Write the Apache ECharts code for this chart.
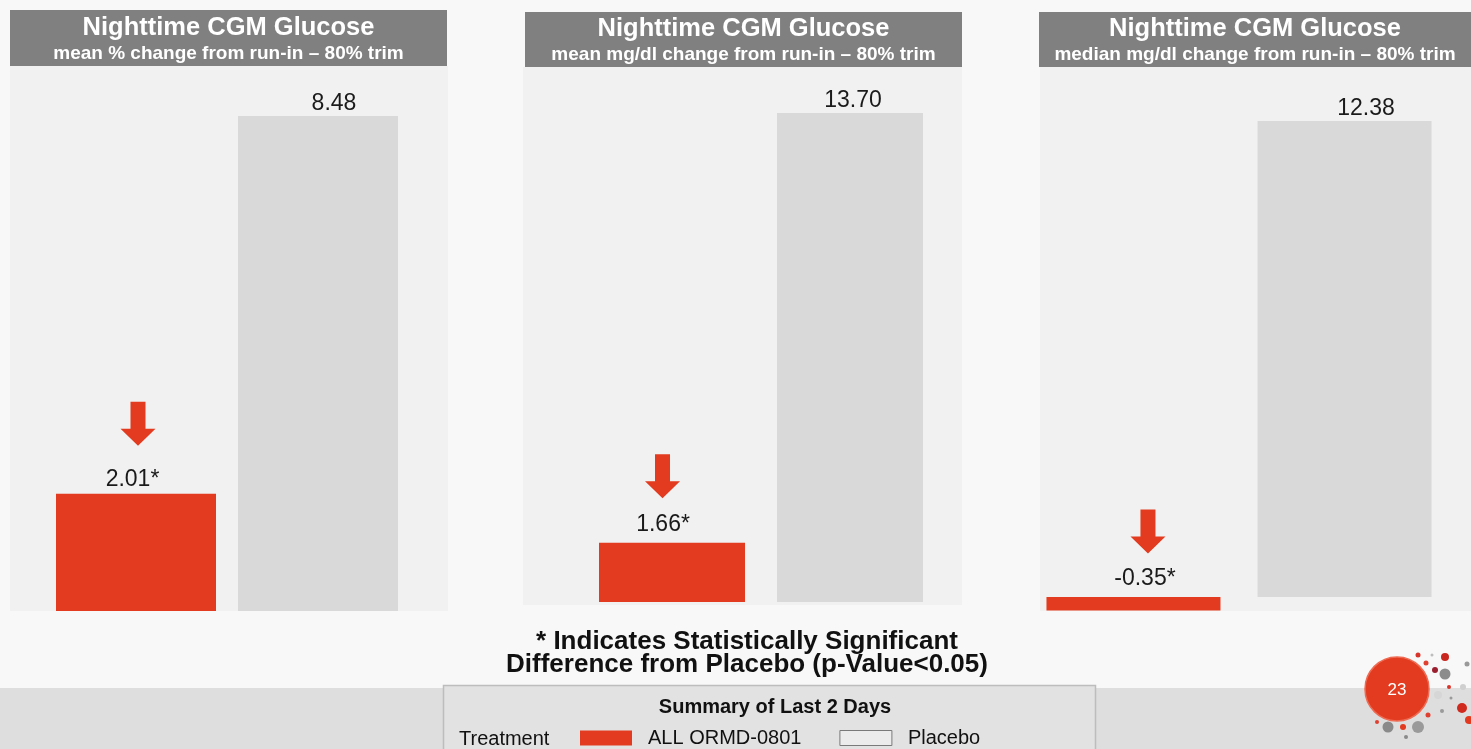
<!DOCTYPE html>
<html>
<head>
<meta charset="utf-8">
<script src="https://cdn.jsdelivr.net/npm/echarts@6/dist/echarts.min.js"></script>
<style>
  html, body { margin: 0; padding: 0; background: #f8f8f8; }
  #chart { width: 1471px; height: 749px; }
</style>
</head>
<body>
<div id="chart"></div>
<script>
// ---- data ----
const panelTitles = ['Nighttime CGM Glucose', 'Nighttime CGM Glucose', 'Nighttime CGM Glucose'];
const panelSubtitles = [
  'mean % change from run-in \u2013 80% trim',
  'mean mg/dl change from run-in \u2013 80% trim',
  'median mg/dl change from run-in \u2013 80% trim'
];
const seriesNames = ['ALL ORMD-0801', 'Placebo'];
const treatmentValues = [2.01, 1.66, -0.35];
const placeboValues = [8.48, 13.70, 12.38];
const significant = [true, true, true];
const footnoteLines = ['* Indicates Statistically Significant', 'Difference from Placebo (p-Value<0.05)'];
const legendTitle = 'Summary of Last 2 Days';
const legendLabel = 'Treatment';
const pageNumber = '23';

// ---- styling ----
const RED = '#e23b1f';
const GREY_BAR = '#d9d9d9';
const FONT = '"Liberation Sans", Arial, Helvetica, sans-serif';

// per-panel geometry (pixels)
const panels = [
  { box: [10, 10, 437, 56], bg: [10, 66, 438, 545], titleY: [28, 54],
    grid: { left: 27, width: 400, top: 116, height: 495 },
    barWidth: 160, barGap: '13.75%',
    arrowOffset: [2, -70], redLabel: { offset: [-3.5, 0], distance: 3 },
    greyLabel: { offset: [16, 0], distance: 1 } },
  { box: [525, 12, 437, 55], bg: [523, 67, 439, 538], titleY: [29, 55],
    grid: { left: 561, width: 400, top: 113, height: 489 },
    barWidth: 146, barGap: '21.9%',
    arrowOffset: [-9.5, -66.5], redLabel: { offset: [-9, 0], distance: 7 },
    greyLabel: { offset: [3, 0], distance: 1 } },
  { box: [1039, 12, 432, 55], bg: [1040, 66, 431, 545], titleY: [29, 55],
    grid: { left: 1039, width: 400, top: 121, height: 489.5 },
    barWidth: 174, barGap: '21.3%',
    arrowOffset: [14.5, -65.5], redLabel: { offset: [11.5, 0], distance: 7 },
    greyLabel: { offset: [21.5, 0], distance: 1 } }
];

const ARROW = 'path://M10,0L25,0L25,27L35,27L17.5,44L0,27L10,27Z';

const grids = [], xAxes = [], yAxes = [], series = [], graphics = [];

panels.forEach((p, i) => {
  grids.push(Object.assign({ containLabel: false }, p.grid));
  xAxes.push({
    type: 'category', gridIndex: i, data: [panelSubtitles[i]],
    show: false
  });
  yAxes.push({
    type: 'value', gridIndex: i,
    min: Math.min(0, treatmentValues[i]), max: placeboValues[i],
    show: false, splitLine: { show: false }
  });

  // treatment bar
  series.push({
    name: seriesNames[0], type: 'bar', xAxisIndex: i, yAxisIndex: i,
    data: [treatmentValues[i]],
    barWidth: p.barWidth, barGap: p.barGap,
    itemStyle: { color: RED },
    emphasis: { disabled: true },
    label: {
      show: true, position: 'top', distance: p.redLabel.distance, offset: p.redLabel.offset,
      fontFamily: FONT, fontSize: 23, color: '#1a1a1a',
      formatter: (d) => d.value.toFixed(2) + (significant[i] ? '*' : '')
    },
    markPoint: {
      symbol: ARROW, symbolSize: [35, 44], symbolOffset: p.arrowOffset,
      itemStyle: { color: RED }, label: { show: false },
      emphasis: { disabled: true },
      data: [{ coord: [panelSubtitles[i], Math.max(0, treatmentValues[i])] }]
    },
    z: 3
  });
  // placebo bar
  series.push({
    name: seriesNames[1], type: 'bar', xAxisIndex: i, yAxisIndex: i,
    data: [placeboValues[i]],
    barWidth: p.barWidth, barGap: p.barGap,
    itemStyle: { color: GREY_BAR },
    emphasis: { disabled: true },
    label: {
      show: true, position: 'top', distance: p.greyLabel.distance, offset: p.greyLabel.offset,
      fontFamily: FONT, fontSize: 23, color: '#1a1a1a',
      formatter: (d) => d.value.toFixed(2)
    },
    z: 3
  });

  // panel background and heading box
  graphics.push({
    type: 'rect', z: -10,
    shape: { x: p.bg[0], y: p.bg[1], width: p.bg[2], height: p.bg[3] },
    style: { fill: '#f1f1f1' }
  });
  graphics.push({
    type: 'rect', z: -5,
    shape: { x: p.box[0], y: p.box[1], width: p.box[2], height: p.box[3] },
    style: { fill: '#808080' }
  });
  const cx = p.box[0] + p.box[2] / 2;
  graphics.push({
    type: 'text', z: 5, x: cx, y: p.titleY[0],
    style: { text: panelTitles[i], fill: '#ffffff', font: 'bold 25.5px ' + FONT,
      textAlign: 'center', textVerticalAlign: 'middle' }
  });
  graphics.push({
    type: 'text', z: 5, x: cx, y: p.titleY[1],
    style: { text: panelSubtitles[i], fill: '#ffffff', font: 'bold 19px ' + FONT,
      textAlign: 'center', textVerticalAlign: 'middle' }
  });
});

// footnote
graphics.push({
  type: 'text', z: 5, x: 747, y: 642,
  style: { text: footnoteLines[0], fill: '#111', font: 'bold 26px ' + FONT,
    textAlign: 'center', textVerticalAlign: 'middle' }
});
graphics.push({
  type: 'text', z: 5, x: 747, y: 665,
  style: { text: footnoteLines[1], fill: '#111', font: 'bold 26px ' + FONT,
    textAlign: 'center', textVerticalAlign: 'middle' }
});

// bottom band and summary box
graphics.push({
  type: 'rect', z: -10,
  shape: { x: 0, y: 688, width: 1471, height: 61 },
  style: { fill: '#dedede' }
});
graphics.push({
  type: 'rect', z: -4,
  shape: { x: 443.5, y: 685.5, width: 652, height: 70 },
  style: { fill: '#e2e2e2', stroke: '#bdbdbd', lineWidth: 1.5 }
});
graphics.push({
  type: 'text', z: 5, x: 775, y: 707,
  style: { text: legendTitle, fill: '#111', font: 'bold 20px ' + FONT,
    textAlign: 'center', textVerticalAlign: 'middle' }
});
graphics.push({
  type: 'text', z: 5, x: 459, y: 739,
  style: { text: legendLabel, fill: '#111', font: '20px ' + FONT,
    textAlign: 'left', textVerticalAlign: 'middle' }
});

// page number badge with scattered dots
const dots = [
  [1418, 655, 2.5, '#d9342a'], [1445, 657, 4, '#c8261e'], [1432, 655, 1.5, '#bdbdbd'],
  [1426, 663, 2.5, '#e04030'], [1435, 670, 3, '#9c1f30'], [1445, 674, 5.5, '#8c8c8c'],
  [1467, 664, 2.5, '#9a9a9a'], [1449, 687, 2, '#d9342a'], [1463, 687, 3, '#cfcfcf'],
  [1451, 698, 1.5, '#9a9a9a'], [1462, 708, 5, '#d02a1e'], [1469, 720, 4, '#e3391f'],
  [1442, 711, 2, '#9a9a9a'], [1428, 715, 2.5, '#e04030'], [1418, 727, 6, '#9a9a9a'],
  [1403, 727, 3, '#e23b1f'], [1388, 727, 5.5, '#8a8a8a'], [1377, 722, 2, '#e04030'],
  [1406, 737, 2, '#8a8a8a'], [1438, 695, 4, '#d6d6d6']
];
dots.forEach(d => graphics.push({
  type: 'circle', z: 6, shape: { cx: d[0], cy: d[1], r: d[2] }, style: { fill: d[3] }
}));
graphics.push({
  type: 'circle', z: 7, shape: { cx: 1397, cy: 689, r: 32 },
  style: { fill: RED, stroke: '#ee6a52', lineWidth: 1.5 }
});
graphics.push({
  type: 'text', z: 8, x: 1397, y: 690,
  style: { text: pageNumber, fill: '#ffffff', font: '17px ' + FONT,
    textAlign: 'center', textVerticalAlign: 'middle' }
});

const option = {
  animation: false,
  backgroundColor: '#f8f8f8',
  grid: grids,
  xAxis: xAxes,
  yAxis: yAxes,
  legend: {
    left: 580, top: 728, padding: 0,
    itemWidth: 52, itemHeight: 15, itemGap: 38,
    selectedMode: false,
    textStyle: { fontFamily: FONT, fontSize: 20, color: '#111', lineHeight: 20, padding: [0, 0, 0, 11] },
    data: [
      { name: seriesNames[0], icon: 'rect', itemStyle: { color: RED } },
      { name: seriesNames[1], icon: 'rect', itemStyle: { color: '#ececec', borderColor: '#7a7a7a', borderWidth: 1 } }
    ]
  },
  graphic: { elements: graphics },
  series: series
};

const chart = echarts.init(document.getElementById('chart'));
chart.setOption(option);
</script>
</body>
</html>
